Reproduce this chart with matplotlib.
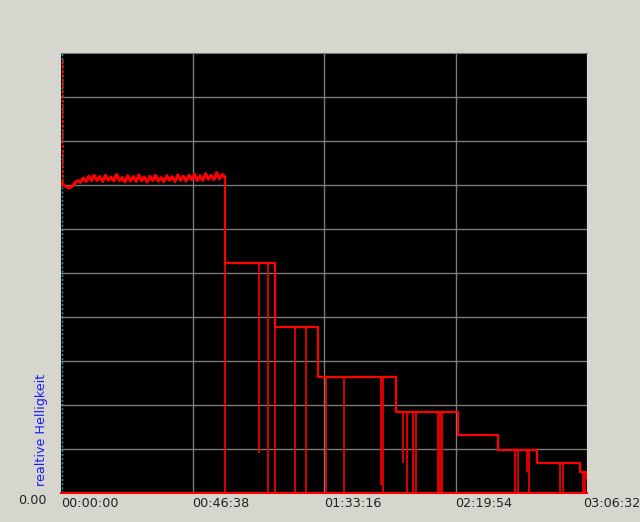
import numpy as np
import matplotlib
matplotlib.use('Agg')
import matplotlib.pyplot as plt
import matplotlib.transforms as mtrans

# time in seconds, brightness in grid units (0..10)
t_end = 11192  # 03:06:32
xtick_secs = [0, 2798, 5596, 8394, 11192]
xtick_labels = ['00:00:00', '00:46:38', '01:33:16', '02:19:54', '03:06:32']

# first plateau, noisy
seg1_vals = [7.05, 7.0, 6.95, 6.93, 6.97, 7.05, 7.1, 7.06, 7.16, 7.08, 7.2, 7.1, 7.22, 7.1, 7.19,
             7.08, 7.22, 7.11, 7.18, 7.09, 7.24, 7.1, 7.17, 7.07, 7.21, 7.09, 7.19, 7.08, 7.23, 7.1,
             7.18, 7.07, 7.2, 7.1, 7.22, 7.09, 7.17, 7.08, 7.21, 7.11, 7.19, 7.08, 7.23, 7.11, 7.2,
             7.09, 7.22, 7.12, 7.24, 7.1, 7.21, 7.11, 7.26, 7.13, 7.22, 7.12, 7.28, 7.14, 7.24, 7.18]
seg1_end = 3490

# later step levels: start time, level
step_starts = [3490, 4553, 5468, 7128, 8447, 9298, 10128, 11043]
step_levels = [5.22, 3.77, 2.64, 1.84, 1.31, 0.97, 0.68, 0.48]
last_level = 0.34

# drop-outs: time, lowest value reached
drop_t = [3490, 4213, 4405, 4553, 4979, 5213, 5639, 6022, 6809, 6851, 7277, 7362, 7490, 7554,
          8022, 8064, 8107, 9660, 9724, 9916, 9958, 10618, 10681, 11107, 11149]
drop_low = [0, 0.91, 0, 0, 0, 0, 0, 0, 0.18, 0, 0.68, 0, 0, 0,
            0, 0, 0, 0, 0, 0.48, 0, 0, 0, 0, 0]

start_spike = 9.85

fig = plt.figure(figsize=(6.4, 5.22), dpi=100, facecolor='#d6d6cf')
ax = fig.add_axes([61/640, 1-493/522, 526/640, 440/522])
ax.set_facecolor('black')
ax.set_xlim(0, t_end)
ax.set_ylim(0, 10)

for yv in range(1, 10):
    ax.axhline(yv, color='#7a7a7a', lw=1, zorder=1)
for xv in xtick_secs[1:-1]:
    ax.axvline(xv, color='#7a7a7a', lw=1, zorder=1)

ax.axvline(25, color='#2aa8b8', lw=1, ls=(0, (1.5, 1.5)), zorder=2)

# trace
seg1_t = np.linspace(0, seg1_end, len(seg1_vals))
ax.plot(seg1_t, seg1_vals, color='red', lw=2.2, zorder=3)
ax.vlines(40, seg1_vals[0], start_spike, color='red', lw=1.2, linestyles=(0, (2, 1)), zorder=3)

xs = list(step_starts) + [t_end]
lv = list(step_levels) + [last_level]
ax.step(xs, lv, where='post', color='red', lw=1.6, zorder=3)
ax.vlines(seg1_end, step_levels[0], seg1_vals[-1], color='red', lw=1.3, zorder=3)

# levels at each drop-out
def level_at(t):
    lvl = step_levels[0]
    for s, l in zip(step_starts, step_levels):
        if t >= s:
            lvl = l
    return lvl

tops = [seg1_vals[-1] if t == seg1_end else level_at(t) for t in drop_t]
ax.vlines(drop_t, drop_low, tops, color='red', lw=1.2, zorder=3)

for s in ['left', 'right']:
    ax.spines[s].set_visible(False)
ax.spines['top'].set_color('#7a7a7a')
ax.spines['bottom'].set_color('red')
ax.spines['bottom'].set_linewidth(1.5)
ax.axvline(t_end, color='#7a7a7a', lw=1, zorder=1)

ax.set_yticks([])
ax.set_xticks(xtick_secs)
ax.set_xticklabels(xtick_labels, ha='left', fontsize=9.2, color='#222222')
ax.tick_params(axis='x', length=0, pad=3)
# pull the last label in so it fits
last = ax.get_xticklabels()[-1]
last.set_transform(last.get_transform() + mtrans.ScaledTranslation(-4/100, 0, fig.dpi_scale_trans))

fig.text(47/640, 1-500/522, '0.00', ha='right', va='center', fontsize=9.2, color='#222222')
fig.text(41/640, 1-486/522, 'realtive Helligkeit', ha='center', va='bottom', rotation=90,
         fontsize=9.2, color='#1a1aff')

fig.savefig('out.png', dpi=100, facecolor=fig.get_facecolor())
